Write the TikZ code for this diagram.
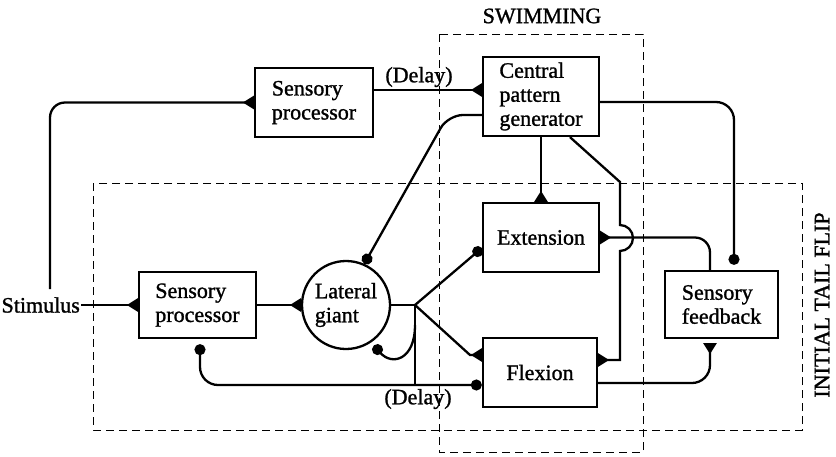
\documentclass[tikz,border=0pt]{standalone}
\usepackage{fontspec}
\setmainfont{Liberation Serif}[FakeBold=1.2]
\usetikzlibrary{arrows.meta}
\tikzstyle{box}=[draw, line width=2.3pt, align=left, inner sep=0pt]
\tikzstyle{syn}=[-{Triangle[reversed, length=11pt, width=13pt]}]
\tikzstyle{inh}=[-{Circle[length=11pt]}]
\tikzstyle{zone}=[line width=1pt, dash pattern=on 8pt off 5pt]

\begin{document}
\begin{tikzpicture}[x=1pt, y=-1pt, line width=2.3pt, font=\fontsize{22}{24}\selectfont]
\useasboundingbox (0,0) rectangle (836,456);
% Regions
    \draw[zone] (439,34) rectangle (643,452);
    \draw[zone] (93,183) rectangle (802,430);
    \node (swim) at (542,16) {SWIMMING};
    \node[rotate=90] (itf) at (822,305) {INITIAL TAIL FLIP};
% Cells
    \node[box, minimum width=118pt, minimum height=69pt] (sp1) at (314,102.5) {Sensory\\processor};
    \node[box, minimum width=116pt, minimum height=79pt] (cpg) at (541,96.5) {Central\\pattern\\generator};
    \node[box, minimum width=117pt, minimum height=66pt] (sp2) at (197.5,305) {Sensory\\processor};
    \node[box, circle, minimum size=88pt] (lg) at (346,305) {Lateral\\giant};
    \node[box, minimum width=116pt, minimum height=69pt] (ext) at (541,237.5) {Extension};
    \node[box, minimum width=114pt, minimum height=69pt] (flx) at (540,372.5) {Flexion};
    \node[box, minimum width=113pt, minimum height=67pt] (sf) at (721.5,304.5) {Sensory\\feedback};
    \node[anchor=east, inner sep=0pt] (stim) at (81,305) {Stimulus};
    \node (dl1) at (419,77) {(Delay)};
    \node (dl2) at (418,399) {(Delay)};
    \coordinate (loop) at (50,289);
    \coordinate (jn) at (415,305);
% Excitatory
    \draw[syn] (stim) -- (sp2);
    \draw[syn, rounded corners=15pt] (loop) |- (sp1.west);
    \draw[syn] (sp1.east |- 0,90) -- (cpg.west |- 0,90);
    \draw[syn] (sp2) -- (lg);
    \draw[syn] (jn) -- ++(55,50) -- (flx.west |- 0,355);
    \draw[syn] (cpg.south) -- (ext.north);
    \draw[syn] (cpg.south -| 570,0) -- (620,182) -- (620,225)
        arc[start angle=90, end angle=-90, radius=13pt] -- (620,360) -- (flx.east |- 0,360);
    \draw[syn, rounded corners=15pt] (sf.north -| 710,0) |- (ext.east);
    \draw[syn, rounded corners=18pt, shorten >=4pt] (flx.east |- 0,383) -| (sf.south -| 710,0);
% Inhibitory
    \draw (lg.east) -- (jn);
    \draw[inh] (jn) -- (ext.west |- 0,248);
    \draw (jn) -- (jn |- 0,385);
    \draw[inh, shorten >=4pt] (415,325) .. controls (415,360) and (392,366) .. (lg.-56);
    \draw[inh, rounded corners=15pt] (cpg.west |- 0,115) -- (448,115) -- (lg.66);
    \draw[{Circle[length=11pt]}-{Circle[length=11pt]}, rounded corners=18pt, shorten <=5pt]
        (sp2.south -| 200,0) |- (flx.west |- 0,385);
    \draw[inh, rounded corners=18pt, shorten >=5pt] (cpg.east |- 0,102) -| (sf.north -| 734,0);
\end{tikzpicture}
\end{document}
